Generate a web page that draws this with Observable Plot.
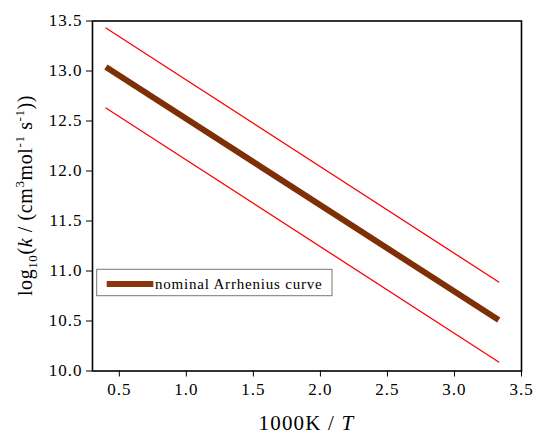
<!DOCTYPE html>
<html><head><meta charset="utf-8">
<script src="https://cdn.jsdelivr.net/npm/d3@7"></script>
<script src="https://cdn.jsdelivr.net/npm/@observablehq/plot@0.6"></script>
<style>body{margin:0;background:#fff}</style>
</head><body><div id="chart"></div>
<script>
// Data
const invT    = [0.40, 3.33];          // 1000K / T
const nominal = [13.04, 10.51];        // nominal Arrhenius curve
const upper   = [13.43, 10.89];        // upper uncertainty limit
const lower   = [12.63, 10.09];        // lower uncertainty limit
const xTicks  = [0.5, 1.0, 1.5, 2.0, 2.5, 3.0, 3.5];
const yTicks  = [10.0, 10.5, 11.0, 11.5, 12.0, 12.5, 13.0, 13.5];
const legendLabel = "nominal Arrhenius curve";

const rows = (ys) => invT.map((x, i) => ({x, y: ys[i]}));
const font = "'Liberation Serif','Times New Roman',serif";

const plot = Plot.plot({
  width: 535, height: 434,
  marginLeft: 92, marginRight: 14, marginTop: 20.5, marginBottom: 63.5,
  style: {fontFamily: font, fontSize: "16px", background: "#fff", color: "#000"},
  x: {domain: [0.3, 3.5]},
  y: {domain: [10, 13.5]},
  marks: [
    Plot.line(rows(upper), {x: "x", y: "y", stroke: "#ff0000", strokeWidth: 1.3}),
    Plot.line(rows(lower), {x: "x", y: "y", stroke: "#ff0000", strokeWidth: 1.3}),
    Plot.line(rows(nominal), {x: "x", y: "y", stroke: "#7e2f05", strokeWidth: 6, strokeLinecap: "butt"}),
    Plot.axisX({ticks: xTicks, tickFormat: d3.format(".1f"), tickSize: 6, tickPadding: 6, label: null, fontSize: 17}),
    Plot.axisY({ticks: yTicks, tickFormat: d3.format(".1f"), tickSize: 6, tickPadding: 4, label: null, fontSize: 17}),
    Plot.frame({stroke: "#000", strokeWidth: 1.6})
  ]
});

const svg = d3.select(plot);
svg.selectAll("text").style("font-family", font).style("letter-spacing", "1px");

// x label
const xl = svg.append("text")
  .attr("x", 306.5).attr("y", 430)
  .attr("text-anchor", "middle")
  .style("font-family", font).style("font-size", "21px").style("letter-spacing", "1.2px").attr("fill", "#000");
xl.append("tspan").text("1000K / ");
xl.append("tspan").attr("font-style", "italic").text("T");

// y label
const yl = svg.append("text")
  .attr("transform", "translate(32,195.5) rotate(-90)")
  .attr("text-anchor", "middle")
  .style("font-family", font).style("font-size", "20px").style("letter-spacing", "0.6px").attr("fill", "#000");
yl.append("tspan").text("log");
yl.append("tspan").attr("font-size", "13px").attr("dy", "5").text("10");
yl.append("tspan").attr("dy", "-5").text("(");
yl.append("tspan").attr("font-style", "italic").text("k");
yl.append("tspan").text(" / (cm");
yl.append("tspan").attr("font-size", "13px").attr("dy", "-8").text("3");
yl.append("tspan").attr("dy", "8").text("mol");
yl.append("tspan").attr("font-size", "13px").attr("dy", "-8").text("-1");
yl.append("tspan").attr("dy", "8").text(" s");
yl.append("tspan").attr("font-size", "13px").attr("dy", "-8").text("-1");
yl.append("tspan").attr("dy", "8").text("))");

// legend
const lg = svg.append("g");
lg.append("rect").attr("x", 96.7).attr("y", 269.3).attr("width", 235.3).attr("height", 26.4)
  .attr("fill", "#fff").attr("stroke", "#777").attr("stroke-width", 1);
lg.append("line").attr("x1", 106.7).attr("x2", 153.3).attr("y1", 284).attr("y2", 284)
  .attr("stroke", "#8b3510").attr("stroke-width", 6);
lg.append("text").attr("x", 155).attr("y", 288.5)
  .attr("text-anchor", "start")
  .style("font-family", font).style("font-size", "15px").style("letter-spacing", "0.8px").attr("fill", "#000")
  .text(legendLabel);

document.getElementById("chart").appendChild(plot);
</script>
</body></html>
